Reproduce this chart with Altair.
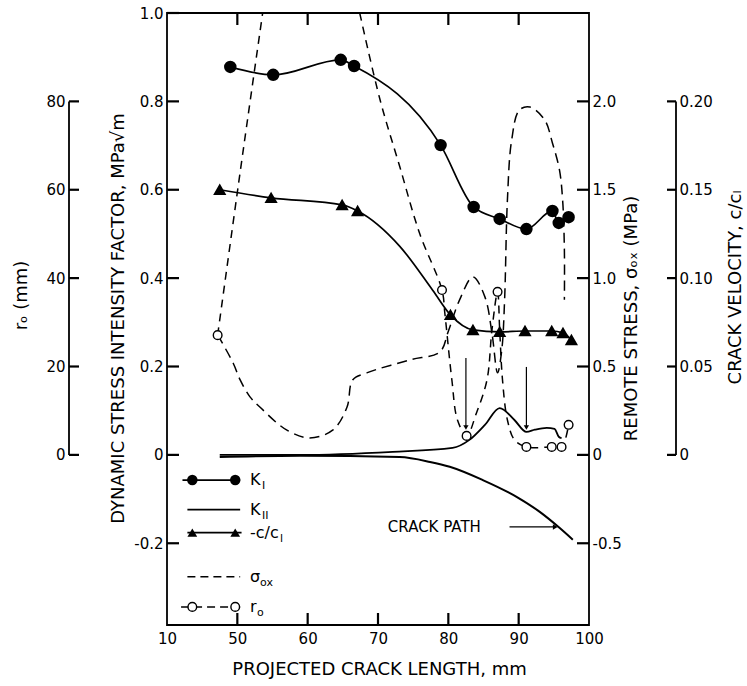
import altair as alt
import pandas as pd

# ---------------- data ----------------
# K_I (filled circles), MPa*sqrt(m)
KI_x = [49.0, 55.1, 64.7, 66.6, 78.9, 83.6, 87.3, 91.1, 94.8, 95.7, 97.1]
KI_y = [0.878, 0.860, 0.894, 0.880, 0.701, 0.561, 0.534, 0.511, 0.552, 0.525, 0.538]

# crack velocity c/c1 (triangles)
V_x = [47.5, 54.8, 64.9, 67.1, 80.3, 83.5, 87.3, 90.9, 94.7, 96.3, 97.5]
V_y = [0.150, 0.1454, 0.1414, 0.138, 0.0792, 0.0707, 0.0696, 0.0701, 0.0701, 0.069, 0.065]
# path of the drawn velocity curve
VP_x = [47.5, 54.8, 64.9, 67.1, 73.1, 77.8, 80.3, 83.5, 87.3, 90.9, 94.7, 96.3, 97.5]
VP_y = [0.150, 0.1454, 0.1414, 0.138, 0.118, 0.093, 0.0792, 0.0707, 0.0696, 0.0701, 0.0701, 0.069, 0.065]

# r0 (open circles), mm
R_x = [47.2, 79.1, 82.6, 87.0, 91.1, 94.7, 96.1, 97.1]
R_y = [27.1, 37.3, 4.3, 36.9, 1.8, 1.8, 1.8, 6.8]
# drawn r0 dashed path (two visible pieces, it leaves the top of the plot between them)
RA_x = [47.2, 50.4, 53.6]
RA_y = [27.1, 64.0, 100.0]
RB_x = [67.4, 70.3, 73.1, 75.9, 79.1, 79.5, 80.5, 81.3, 82.6, 84.0, 85.5, 86.2, 87.0,
        87.3, 87.7, 88.4, 89.4, 91.1, 94.7, 96.1, 97.1]
RB_y = [100.0, 80.3, 65.2, 50.2, 37.3, 32.1, 17.0, 7.9, 4.3, 9.5, 17.0, 28.3, 36.9,
        28.3, 17.0, 7.9, 3.4, 1.8, 1.8, 1.8, 6.8]

# remote stress sigma_ox (dashed), MPa
S_x = [47.2, 49.4, 50.4, 51.8, 53.2, 57.0, 60.3, 63.6, 65.6, 66.4, 68.4, 74.5, 78.8,
       80.0, 81.6, 83.5, 85.2, 86.2, 87.0, 87.6, 88.0, 88.4, 89.0, 90.1, 91.6, 93.7,
       94.8, 95.8, 96.25, 96.5, 96.5]
S_y = [0.679, 0.520, 0.424, 0.328, 0.271, 0.141, 0.096, 0.141, 0.271, 0.424, 0.464,
       0.537, 0.583, 0.700, 0.877, 1.007, 0.894, 0.690, 0.464, 0.594, 0.877, 1.442,
       1.780, 1.951, 1.968, 1.895, 1.765, 1.612, 1.442, 1.160, 0.877]

# K_II (solid, no markers)
K2_x = [47.5, 58.9, 72.1, 80.6, 83.0, 85.2, 87.3, 89.4, 91.1, 92.3, 94.0, 95.1, 95.7, 96.1]
K2_y = [0.0, 0.0, 0.007, 0.016, 0.034, 0.068, 0.106, 0.079, 0.052, 0.057, 0.061, 0.059, 0.041, 0.038]

# crack path (solid)
CP_x = [47.5, 58.9, 73.1, 77.4, 80.2, 84.9, 89.7, 93.0, 95.8, 97.7]
CP_y = [-0.005, -0.002, -0.005, -0.016, -0.027, -0.057, -0.095, -0.129, -0.165, -0.192]

# axis tick values
X_TICKS = [40, 50, 60, 70, 80, 90, 100]
K_TICKS = [-0.2, 0, 0.2, 0.4, 0.6, 0.8, 1.0]
S_TICKS = [-0.5, 0, 0.5, 1.0, 1.5, 2.0]
V_TICKS = [0, 0.05, 0.10, 0.15, 0.20]
R_TICKS = [0, 20, 40, 60, 80]

# ---------------- layout / style ----------------
FONT = "DejaVu Sans"
W, H = 422, 612
X_DOM = [40, 100]
K_DOM = [-0.385, 1.0]
XS = alt.Scale(domain=X_DOM, nice=False, zero=False)
KS = alt.Scale(domain=K_DOM, nice=False, zero=False)
SS = alt.Scale(domain=[-0.9625, 2.5], nice=False, zero=False)
VS = alt.Scale(domain=[-0.09625, 0.25], nice=False, zero=False)
RS = alt.Scale(domain=[-38.5, 100], nice=False, zero=False)

PX_MM = W / (X_DOM[1] - X_DOM[0])      # pixels per mm on x
PX_K = H / (K_DOM[1] - K_DOM[0])       # pixels per K unit on y
V_AX_PX = 509                          # detached velocity axis, px right of plot left edge
R_AX_PX = -98                          # detached r0 axis, px from plot left edge
V_AX_X = X_DOM[0] + V_AX_PX / PX_MM
R_AX_X = X_DOM[0] + R_AX_PX / PX_MM
TL = 12                                # tick length, px

common = dict(grid=False, domain=False, ticks=False,
              labelFont=FONT, labelFontSize=15, labelColor="black",
              labelFlush=False, labelOverlap=False,
              titleFont=FONT, titleFontSize=18, titleFontWeight="normal",
              titleColor="black", titleAlign="center", titleBaseline="middle")
signed = "datum.value == 0 ? '0' : (datum.value < 0 ? '-' + format(-datum.value, '.1f') : format(datum.value, '.1f'))"

x_axis_bottom = alt.Axis(orient="top", offset=-H, values=X_TICKS,
                         labelExpr="datum.value == 40 ? '10' : datum.label",
                         labelPadding=-6, labelBaseline="top",
                         title="PROJECTED CRACK LENGTH, mm", titleX=212, titleY=44,
                         titleAngle=0, **common)
k_axis = alt.Axis(orient="right", offset=-W, values=K_TICKS, labelExpr=signed,
                  labelPadding=-4, labelAlign="right",
                  title="DYNAMIC STRESS INTENSITY FACTOR,  MPa√m",
                  titleX=-49, titleY=305, titleAngle=270, **common)
s_axis = alt.Axis(orient="left", offset=-W, values=S_TICKS, labelExpr=signed,
                  labelPadding=-3, labelAlign="left",
                  title="REMOTE STRESS,  σₒₓ  (MPa)",
                  titleX=42, titleY=305, titleAngle=270, **common)
v_axis = alt.Axis(orient="left", offset=-V_AX_PX, values=V_TICKS,
                  labelExpr="datum.value == 0 ? '0' : format(datum.value, '.2f')",
                  labelPadding=-3, labelAlign="left",
                  title="CRACK VELOCITY,  c/cₗ",
                  titleX=59, titleY=274, titleAngle=270, **common)
r_axis = alt.Axis(orient="right", offset=-W + R_AX_PX, values=R_TICKS,
                  labelPadding=-4, labelAlign="right",
                  title="rₒ  (mm)", titleX=-48, titleY=282, titleAngle=270, **common)


def X(axis=None, field="x:Q"):
    return alt.X(field, scale=XS, axis=axis)


layers = []

# sigma_ox dashed
dfS = pd.DataFrame({"x": S_x, "y": S_y, "i": range(len(S_x))})
layers.append(alt.Chart(dfS).mark_line(color="black", strokeWidth=1.5, strokeDash=[10, 6],
                                       interpolate="catmull-rom").encode(
    x=X(), y=alt.Y("y:Q", scale=SS, axis=s_axis), order="i:Q"))

# r0 dashed path
segs = []
for sid, (xs, ys) in enumerate([(RA_x, RA_y), (RB_x, RB_y)]):
    for i, (a, b) in enumerate(zip(xs, ys)):
        segs.append({"x": a, "y": b, "seg": sid, "i": i})
dfRP = pd.DataFrame(segs)
layers.append(alt.Chart(dfRP).mark_line(color="black", strokeWidth=1.5, strokeDash=[8, 6],
                                        interpolate="catmull-rom", clip=True).encode(
    x=X(), y=alt.Y("y:Q", scale=RS, axis=None), detail="seg:N", order="i:Q"))

# K_I line
dfKI = pd.DataFrame({"x": KI_x, "y": KI_y})
layers.append(alt.Chart(dfKI).mark_line(color="black", strokeWidth=1.7, interpolate="monotone").encode(
    x=X(x_axis_bottom), y=alt.Y("y:Q", scale=KS, axis=k_axis)))

# velocity line
dfVP = pd.DataFrame({"x": VP_x, "y": VP_y})
layers.append(alt.Chart(dfVP).mark_line(color="black", strokeWidth=1.7, interpolate="monotone").encode(
    x=X(), y=alt.Y("y:Q", scale=VS, axis=None)))

# K_II line
dfK2 = pd.DataFrame({"x": K2_x, "y": K2_y})
layers.append(alt.Chart(dfK2).mark_line(color="black", strokeWidth=1.8, interpolate="monotone").encode(
    x=X(), y=alt.Y("y:Q", scale=KS, axis=None)))

# crack path
dfCP = pd.DataFrame({"x": CP_x, "y": CP_y})
layers.append(alt.Chart(dfCP).mark_line(color="black", strokeWidth=2.0, interpolate="monotone").encode(
    x=X(), y=alt.Y("y:Q", scale=KS, axis=None)))

# markers
layers.append(alt.Chart(dfKI).mark_point(shape="circle", filled=True, fill="black", stroke="black",
                                         size=110, opacity=1).encode(
    x=X(), y=alt.Y("y:Q", scale=KS, axis=None)))
dfV = pd.DataFrame({"x": V_x, "y": V_y})
layers.append(alt.Chart(dfV).mark_point(shape="triangle-up", filled=True, fill="black", stroke="black",
                                        size=95, opacity=1).encode(
    x=X(), y=alt.Y("y:Q", scale=VS, axis=None)))
dfR = pd.DataFrame({"x": R_x, "y": R_y})
layers.append(alt.Chart(dfR).mark_point(shape="circle", filled=True, fill="white", stroke="black",
                                        strokeWidth=1.4, size=75, opacity=1).encode(
    x=X(), y=alt.Y("y:Q", scale=RS, axis=None)))

# detached axis lines (velocity and r0)
dfVax = pd.DataFrame({"lo": [0.0], "hi": [0.20]})
layers.append(alt.Chart(dfVax).mark_rule(color="black", strokeWidth=1.8).encode(
    x=alt.value(V_AX_PX), y=alt.Y("lo:Q", scale=VS, axis=v_axis), y2="hi:Q"))
dfRax = pd.DataFrame({"lo": [0.0], "hi": [80.0]})
layers.append(alt.Chart(dfRax).mark_rule(color="black", strokeWidth=1.8).encode(
    x=alt.value(R_AX_PX), y=alt.Y("lo:Q", scale=RS, axis=r_axis), y2="hi:Q"))

# tick marks (inward, as in the figure), drawn as short two-point lines through the scales
TW = 2.2


def tick_lines(rows, scale):
    d = pd.DataFrame(rows)
    return alt.Chart(d).mark_line(color="black", strokeWidth=TW, interpolate="linear").encode(
        x=X(), y=alt.Y("y:Q", scale=scale, axis=None), detail="id:N", order="o:Q")


xt_rows = []
for k, xv in enumerate(X_TICKS[1:-1]):
    xt_rows += [{"x": xv, "y": K_DOM[0], "id": f"b{k}", "o": 0},
                {"x": xv, "y": K_DOM[0] + TL / PX_K, "id": f"b{k}", "o": 1},
                {"x": xv, "y": K_DOM[1], "id": f"t{k}", "o": 0},
                {"x": xv, "y": K_DOM[1] - TL / PX_K, "id": f"t{k}", "o": 1}]
layers.append(tick_lines(xt_rows, KS))


def h_rows(vals, x0, x1):
    rows = []
    for k, v in enumerate(vals):
        rows += [{"x": x0, "y": v, "id": k, "o": 0}, {"x": x1, "y": v, "id": k, "o": 1}]
    return rows


layers.append(tick_lines(h_rows(K_TICKS, X_DOM[0], X_DOM[0] + TL / PX_MM), KS))
layers.append(tick_lines(h_rows(S_TICKS, X_DOM[1] - TL / PX_MM, X_DOM[1]), SS))
layers.append(tick_lines(h_rows(V_TICKS, V_AX_X - 9 / PX_MM, V_AX_X), VS))
layers.append(tick_lines(h_rows(R_TICKS, R_AX_X, R_AX_X + 10 / PX_MM), RS))

# annotation arrows (vertical)
dfArr = pd.DataFrame({"x": [82.5, 91.1], "y": [0.219, 0.199], "y2": [0.062, 0.062]})
layers.append(alt.Chart(dfArr).mark_rule(color="black", strokeWidth=1.2).encode(
    x=X(), y=alt.Y("y:Q", scale=KS, axis=None), y2="y2:Q"))
layers.append(alt.Chart(dfArr).mark_point(shape="triangle-down", filled=True, fill="black",
                                          size=28, opacity=1).encode(
    x=X(), y=alt.Y("y2:Q", scale=KS, axis=None)))

# CRACK PATH label with arrow
dfCPT = pd.DataFrame({"x": [71.4], "y": [-0.163], "t": ["CRACK PATH"]})
layers.append(alt.Chart(dfCPT).mark_text(align="left", baseline="middle", font=FONT, fontSize=15,
                                         color="black").encode(
    x=X(), y=alt.Y("y:Q", scale=KS, axis=None), text="t:N"))
dfCPA = pd.DataFrame({"x": [88.7], "x2": [95.2], "y": [-0.163]})
layers.append(alt.Chart(dfCPA).mark_rule(color="black", strokeWidth=1.3).encode(
    x=X(), x2="x2:Q", y=alt.Y("y:Q", scale=KS, axis=None)))
layers.append(alt.Chart(dfCPA).mark_point(shape="triangle-right", filled=True, fill="black",
                                          size=30, opacity=1).encode(
    x=X(field="x2:Q"), y=alt.Y("y:Q", scale=KS, axis=None)))

# ---------------- legend (inside the plot, lower left) ----------------
leg_rows = pd.DataFrame({
    "key": ["KI", "KII", "cc", "sig", "r0"],
    "y": [-0.057, -0.124, -0.176, -0.276, -0.344],
    "x": [42.2, 42.9, 42.9, 42.9, 42.0],
    "x2": [50.4, 50.4, 50.6, 50.4, 50.4],
})
solid = leg_rows[leg_rows.key.isin(["KI", "KII", "cc"])]
dashed = leg_rows[leg_rows.key.isin(["sig", "r0"])]
layers.append(alt.Chart(solid).mark_rule(color="black", strokeWidth=1.7).encode(
    x=X(), x2="x2:Q", y=alt.Y("y:Q", scale=KS, axis=None)))
layers.append(alt.Chart(dashed).mark_rule(color="black", strokeWidth=1.5, strokeDash=[8, 5]).encode(
    x=X(), x2="x2:Q", y=alt.Y("y:Q", scale=KS, axis=None)))
leg_pts = pd.DataFrame({"x": [43.6, 49.7], "yKI": [-0.057] * 2, "ycc": [-0.176] * 2, "yr": [-0.344] * 2})
layers.append(alt.Chart(leg_pts).mark_point(shape="circle", filled=True, fill="black", size=110,
                                            opacity=1).encode(
    x=X(), y=alt.Y("yKI:Q", scale=KS, axis=None)))
layers.append(alt.Chart(leg_pts).mark_point(shape="triangle-up", filled=True, fill="black", size=95,
                                            opacity=1).encode(
    x=X(), y=alt.Y("ycc:Q", scale=KS, axis=None)))
layers.append(alt.Chart(leg_pts).mark_point(shape="circle", filled=True, fill="white", stroke="black",
                                            strokeWidth=1.4, size=75, opacity=1).encode(
    x=X(), y=alt.Y("yr:Q", scale=KS, axis=None)))

leg_text = [("K", "I", -0.057, 12), ("K", "II", -0.124, 12), ("-c/c", "l", -0.176, 30),
            ("σ", "ox", -0.276, 10), ("r", "o", -0.344, 7)]
for main, sub, yy, dx in leg_text:
    d = pd.DataFrame({"x": [51.8], "y": [yy], "m": [main], "s": [sub]})
    layers.append(alt.Chart(d).mark_text(align="left", baseline="middle", font=FONT, fontSize=16,
                                         color="black").encode(
        x=X(), y=alt.Y("y:Q", scale=KS, axis=None), text="m:N"))
    layers.append(alt.Chart(d).mark_text(align="left", baseline="middle", font=FONT, fontSize=11,
                                         color="black", dx=dx, dy=6).encode(
        x=X(), y=alt.Y("y:Q", scale=KS, axis=None), text="s:N"))

chart = alt.layer(*layers).resolve_scale(y="independent").resolve_axis(
    x="independent", y="independent"
).properties(
    width=W, height=H,
    padding={"left": 167, "top": 13, "right": 158, "bottom": 61},
    autosize=alt.AutoSizeParams(type="none"),
    background="white",
).configure_view(stroke="black", strokeWidth=1.8)

chart.save("out.html", embed_options={"renderer": "svg", "actions": False})
